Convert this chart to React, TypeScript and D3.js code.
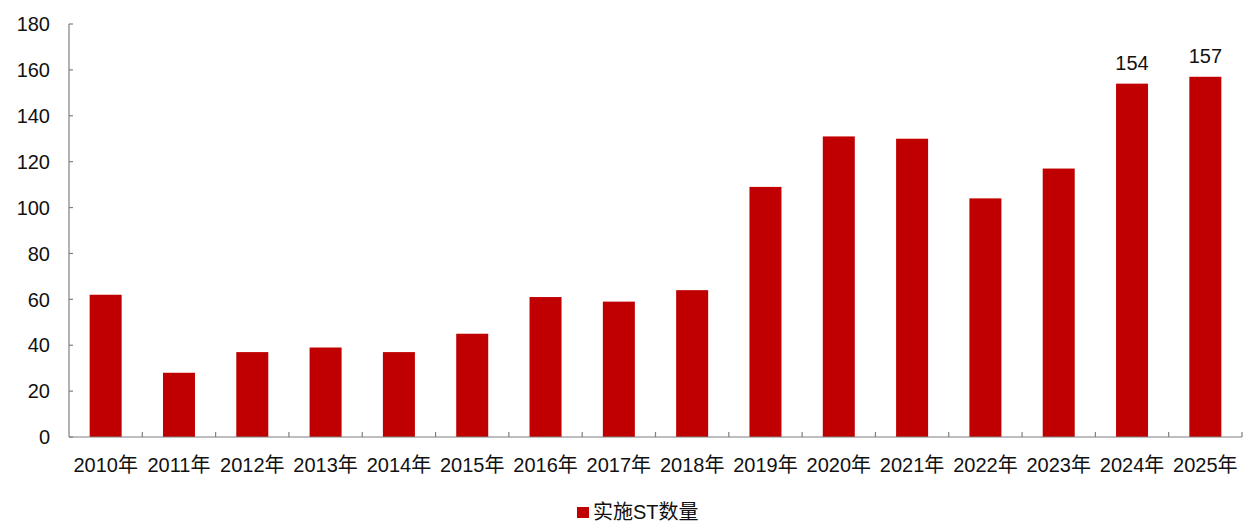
import React from "react";
import * as d3 from "d3";

const categories = ["2010年","2011年","2012年","2013年","2014年","2015年","2016年","2017年","2018年","2019年","2020年","2021年","2022年","2023年","2024年","2025年"];
const values = [62, 28, 37, 39, 37, 45, 61, 59, 64, 109, 131, 130, 104, 117, 154, 157];
const labeled = ["2024年", "2025年"];
const yTicks = [0, 20, 40, 60, 80, 100, 120, 140, 160, 180];
const seriesName = "实施ST数量";

const W = 1260, H = 531;
const left = 69, right = 1242, top = 24, bottom = 437;
const color = "#C00000";
const axisColor = "#7f7f7f";
const font = "Arial, 'Liberation Sans', 'Noto Sans CJK SC', sans-serif";

export default function App() {
  const xs = d3.scaleBand<string>().domain(categories).range([left, right]).padding(0);
  const step = xs.bandwidth();
  const y = d3.scaleLinear().domain([0, 180]).range([bottom, top]);
  const bw = 32;
  return (
    <svg width={W} height={H} style={{ position: "absolute", left: 0, top: 0, background: "#fff" }} fontFamily={font}>
      {categories.map((c, i) => {
        const cx = (xs(c) as number) + step / 2;
        return (
          <rect key={c} x={cx - bw / 2} y={y(values[i])} width={bw} height={bottom - y(values[i])} fill={color} />
        );
      })}
      {categories.map((c, i) => labeled.includes(c) ? (
        <text key={"l" + c} x={(xs(c) as number) + step / 2} y={y(values[i]) - 14} textAnchor="middle" fontSize={20} fill="#111">{values[i]}</text>
      ) : null)}
      <line x1={left} x2={left} y1={top} y2={bottom} stroke={axisColor} strokeWidth={1.2} />
      <line x1={left} x2={right} y1={bottom} y2={bottom} stroke={axisColor} strokeWidth={1.2} />
      {yTicks.map(t => (
        <g key={t}>
          <line x1={left} x2={left + 4} y1={y(t)} y2={y(t)} stroke={axisColor} strokeWidth={1.2} />
          <text x={50} y={y(t)} dy="0.36em" textAnchor="end" fontSize={20} fill="#111">{t}</text>
        </g>
      ))}
      {categories.map(c => (
        <line key={"t" + c} x1={(xs(c) as number) + step} x2={(xs(c) as number) + step} y1={bottom} y2={bottom - 5} stroke={axisColor} strokeWidth={1.2} />
      ))}
      {categories.map(c => (
        <text key={"x" + c} x={(xs(c) as number) + step / 2} y={472} textAnchor="middle" fontSize={20} fill="#111">{c}</text>
      ))}
      <rect x={577} y={507} width={12} height={11} fill={color} />
      <text x={593} y={519} fontSize={20} fill="#111">{seriesName}</text>
    </svg>
  );
}
